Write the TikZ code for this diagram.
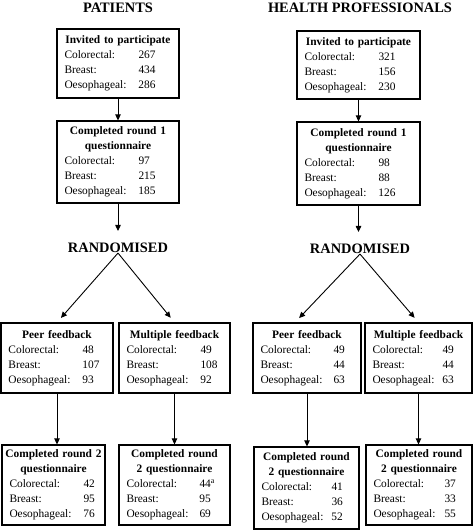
\documentclass[tikz,border=0pt]{standalone}
\usepackage{fontspec}
\setmainfont{Liberation Serif}
\usepackage{tikz}
\usetikzlibrary{arrows.meta, positioning}
\tikzstyle{stage} = [rectangle, draw=black, line width=1.2pt, inner xsep=7.5pt, inner ysep=0pt, align=left, font=\fontsize{11.4}{15}\selectfont]
\tikzstyle{heading} = [inner sep=0pt, font=\fontsize{14.4}{16}\selectfont\bfseries]
\tikzstyle{arrow} = [line width=0.9pt, -{Triangle[length=6pt, width=5.5pt]}]
\newcommand{\boxtitle}[1]{\makebox[\linewidth]{\textbf{#1}}}
\newcommand{\counts}[4][74pt]{\makebox[#1][l]{Colorectal:}#2\\\makebox[#1][l]{Breast:}#3\\\makebox[#1][l]{Oesophageal:}#4}

\begin{document}
\begin{tikzpicture}[x=1pt, y=-1pt]
    \useasboundingbox (0,0) rectangle (473,531);

    % patients
    \node[heading] (ptitle) at (118,8) {PATIENTS};
    \node[stage, text width=107pt, minimum height=69pt] (pinv) at (118,63.5)
        {\boxtitle{Invited to participate}\\\counts{267}{434}{286}};
    \node[stage, text width=107pt, minimum height=82pt] (pround1) at (118,162)
        {\boxtitle{Completed round 1}\\\boxtitle{questionnaire}\\\counts{97}{215}{185}};
    \node[heading] (prand) at (118,248) {RANDOMISED};
    \node[stage, text width=97pt, minimum height=70pt] (ppeer) at (57,358)
        {\boxtitle{Peer feedback}\\\counts{48}{107}{93}};
    \node[stage, text width=96pt, minimum height=70pt] (pmult) at (174.5,358)
        {\boxtitle{Multiple feedback}\\\counts{49}{108}{92}};
    \node[stage, text width=88pt, minimum height=80pt] (prpeer) at (53.5,485)
        {\boxtitle{Completed round 2}\\\boxtitle{questionnaire}\\\counts{42}{95}{76}};
    \node[stage, text width=96pt, minimum height=80pt] (prmult) at (174.5,485)
        {\boxtitle{Completed round}\\\boxtitle{2 questionnaire}\\\counts[73pt]{44\textsuperscript{a}}{95}{69}};

    % health professionals
    \node[heading] (htitle) at (360,8) {HEALTH PROFESSIONALS};
    \node[stage, text width=108pt, minimum height=68pt] (hinv) at (358.5,65)
        {\boxtitle{Invited to participate}\\\counts{321}{156}{230}};
    \node[stage, text width=108pt, minimum height=83pt] (hround1) at (358.5,163.5)
        {\boxtitle{Completed round 1}\\\boxtitle{questionnaire}\\\counts{98}{88}{126}};
    \node[heading] (hrand) at (360,249) {RANDOMISED};
    \node[stage, text width=93pt, minimum height=70pt] (hpeer) at (307,358)
        {\boxtitle{Peer feedback}\\\counts[73pt]{49}{44}{63}};
    \node[stage, text width=92pt, minimum height=70pt] (hmult) at (418.5,358)
        {\boxtitle{Multiple feedback}\\\counts[70pt]{49}{44}{63}};
    \node[stage, text width=90pt, minimum height=82pt] (hrpeer) at (306.5,488)
        {\boxtitle{Completed round}\\\boxtitle{2 questionnaire}\\\counts[70pt]{41}{36}{52}};
    \node[stage, text width=91pt, minimum height=80pt] (hrmult) at (419,485)
        {\boxtitle{Completed round}\\\boxtitle{2 questionnaire}\\\counts[71pt]{37}{33}{55}};

    % arrows
    \draw[arrow] (pinv) -- (pround1);
    \draw[arrow, shorten >=12pt] (pround1) -- (prand);
    \draw[arrow, shorten >=6pt] (prand.south) -- (ppeer.north);
    \draw[arrow, shorten >=6pt] (prand.south) -- (pmult.north);
    \draw[arrow] (ppeer.south) -- (ppeer.south |- prpeer.north);
    \draw[arrow] (pmult.south) -- (pmult.south |- prmult.north);

    \draw[arrow] (hinv) -- (hround1);
    \draw[arrow, shorten >=12pt] (hround1.south) -- (hround1.south |- hrand.north);
    \draw[arrow, shorten >=6pt] (hrand.south) -- ([xshift=-12pt]hpeer.north);
    \draw[arrow, shorten >=6pt] (hrand.south) -- (hmult.north);
    \draw[arrow] (hpeer.south) -- (hpeer.south |- hrpeer.north);
    \draw[arrow] (hmult.south) -- (hmult.south |- hrmult.north);
\end{tikzpicture}
\end{document}
